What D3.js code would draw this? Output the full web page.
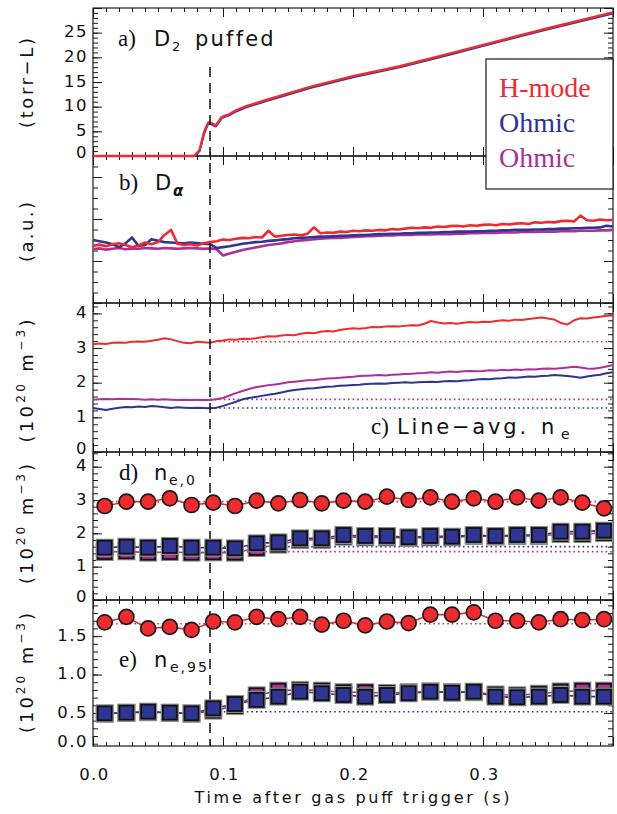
<!DOCTYPE html>
<html><head><meta charset="utf-8">
<script src="https://cdn.jsdelivr.net/npm/d3@7"></script>
<style>body{margin:0;background:#fff} svg{display:block}</style>
</head><body><svg id="c" width="617" height="814"></svg>
<script>
// ---------------- DATA ----------------
const colors = {hmode:"#ee2b2f", ohm1:"#2e3592", ohm2:"#ad2f98"};
const legendLabels = ["H-mode","Ohmic","Ohmic"];
const xTickLabels = [0, 0.1, 0.2, 0.3];
const puffTime = 0.09;

// panel a: D2 puffed (torr-L)
const tA = [0,0.078,0.082,0.0855,0.0887,0.0915,0.0945,0.099,0.105,0.1105,0.118,0.134,0.149,0.167,0.2,0.236,0.275,0.313,0.35,0.4];
const puffH = [0,0,1.2,4.9,6.8,6.6,6.2,7.9,8.5,9.3,10.1,11.4,12.6,14.0,16.2,18.2,20.8,23.4,25.9,29.1];
const puffOhm = [0,0,1.0,4.6,6.6,6.4,6.0,7.7,8.3,9.1,9.9,11.2,12.4,13.8,16.0,18.0,20.6,23.2,25.7,28.9];

// traces sampled every 5 ms (0 .. 0.4 s)
const tTrace = d3.range(81).map(i => +(i*0.005).toFixed(3));
// panel b: D-alpha (a.u.)
const daH = [1.36,1.39,1.35,1.40,1.42,1.38,1.33,1.37,1.44,1.40,1.45,1.62,1.74,1.41,1.38,1.40,1.37,1.42,1.45,1.47,
 1.51,1.50,1.53,1.55,1.54,1.57,1.56,1.72,1.58,1.60,1.62,1.63,1.61,1.65,1.80,1.66,1.68,1.67,1.70,1.69,
 1.72,1.71,1.73,1.72,1.74,1.73,1.76,1.75,1.77,1.79,1.78,1.80,1.79,1.82,1.81,1.83,1.84,1.82,1.85,1.84,
 1.86,1.87,1.85,1.88,1.87,1.89,1.90,1.88,1.92,1.91,1.93,1.92,1.95,1.96,1.94,2.08,1.97,1.96,1.99,1.97,1.98];
const daO1 = [1.50,1.47,1.44,1.40,1.33,1.42,1.56,1.36,1.38,1.52,1.48,1.45,1.44,1.43,1.42,1.44,1.43,1.41,1.40,1.31,
 1.33,1.35,1.38,1.41,1.43,1.45,1.46,1.48,1.49,1.51,1.52,1.54,1.55,1.56,1.57,1.58,1.58,1.59,1.60,1.60,
 1.61,1.62,1.62,1.63,1.64,1.64,1.65,1.65,1.66,1.66,1.67,1.67,1.68,1.68,1.69,1.69,1.70,1.70,1.70,1.71,
 1.71,1.72,1.72,1.73,1.73,1.74,1.74,1.74,1.75,1.75,1.76,1.76,1.77,1.77,1.78,1.78,1.79,1.79,1.80,1.84,1.82];
const daO2 = [1.28,1.30,1.27,1.29,1.31,1.28,1.30,1.29,1.31,1.30,1.29,1.31,1.30,1.29,1.30,1.31,1.30,1.29,1.30,1.28,
 1.13,1.18,1.22,1.26,1.29,1.32,1.35,1.38,1.40,1.42,1.45,1.47,1.49,1.50,1.52,1.53,1.54,1.55,1.55,1.56,
 1.57,1.58,1.59,1.59,1.60,1.61,1.61,1.62,1.62,1.62,1.63,1.63,1.63,1.64,1.64,1.64,1.65,1.65,1.66,1.66,
 1.67,1.67,1.67,1.68,1.68,1.68,1.69,1.69,1.69,1.70,1.70,1.70,1.71,1.71,1.71,1.72,1.72,1.72,1.73,1.73,1.74];
// panel c: line-averaged density (1e20 m^-3)
const neH = [3.11,3.13,3.12,3.15,3.16,3.15,3.18,3.19,3.18,3.21,3.24,3.28,3.25,3.20,3.15,3.14,3.18,3.17,3.15,3.20,
 3.22,3.25,3.24,3.27,3.26,3.28,3.31,3.34,3.33,3.36,3.38,3.37,3.41,3.44,3.43,3.47,3.49,3.48,3.52,3.55,
 3.57,3.56,3.58,3.61,3.60,3.62,3.63,3.62,3.64,3.66,3.65,3.70,3.78,3.74,3.71,3.72,3.70,3.73,3.75,3.74,
 3.76,3.75,3.78,3.80,3.79,3.82,3.81,3.84,3.86,3.88,3.85,3.82,3.72,3.68,3.80,3.86,3.85,3.88,3.90,3.93,3.94];
const neO1 = [1.27,1.24,1.21,1.25,1.28,1.30,1.29,1.31,1.30,1.33,1.31,1.29,1.27,1.29,1.28,1.27,1.28,1.27,1.26,1.28,
 1.33,1.39,1.45,1.52,1.56,1.59,1.62,1.65,1.68,1.72,1.76,1.79,1.81,1.83,1.84,1.86,1.88,1.89,1.91,1.92,
 1.93,1.94,1.96,1.97,1.98,1.97,1.99,2.00,2.01,2.00,2.01,2.02,2.03,2.02,2.04,2.05,2.04,2.06,2.07,2.09,
 2.11,2.10,2.12,2.13,2.15,2.14,2.16,2.18,2.17,2.19,2.20,2.22,2.21,2.19,2.17,2.14,2.18,2.21,2.23,2.27,2.30];
const neO2 = [1.51,1.52,1.53,1.52,1.54,1.53,1.53,1.52,1.51,1.52,1.51,1.52,1.51,1.50,1.51,1.50,1.51,1.50,1.50,1.52,
 1.56,1.63,1.70,1.76,1.82,1.87,1.90,1.93,1.95,1.98,2.01,2.03,2.05,2.07,2.08,2.10,2.12,2.13,2.14,2.16,
 2.17,2.19,2.20,2.21,2.22,2.21,2.23,2.24,2.25,2.26,2.27,2.28,2.30,2.29,2.31,2.32,2.31,2.33,2.34,2.33,
 2.34,2.36,2.35,2.37,2.36,2.38,2.37,2.39,2.38,2.40,2.41,2.40,2.42,2.44,2.46,2.44,2.41,2.40,2.43,2.47,2.51];
const neRef = {H:3.18, O1:1.27, O2:1.52};

// panels d, e: profile-fit densities at discrete times
const tMarkers = [0.009,0.0257,0.0424,0.0591,0.0758,0.0925,0.1092,0.1259,0.1426,0.1593,0.176,0.1927,
 0.2094,0.2261,0.2428,0.2595,0.2762,0.2929,0.3096,0.3263,0.343,0.3597,0.3764,0.3931];
const ne0H = [2.82,2.95,2.95,3.05,2.85,2.92,2.82,2.98,2.90,3.00,2.90,2.98,2.95,3.10,3.00,3.08,2.95,3.05,2.95,3.08,2.98,3.08,2.92,2.75];
const ne0O1 = [1.57,1.60,1.57,1.62,1.57,1.57,1.55,1.70,1.73,1.85,1.85,1.95,1.92,1.92,1.88,1.92,1.90,1.95,1.92,1.95,1.95,2.05,2.05,2.08];
const ne0O2 = [1.44,1.46,1.42,1.44,1.42,1.43,1.42,1.56,1.66,1.80,1.80,1.90,1.88,1.88,1.86,1.88,1.88,1.92,1.90,1.92,1.92,1.98,1.98,2.01];
const ne0Ref = {H:2.95, O1:1.60, O2:1.45};
const ne95H = [1.68,1.75,1.60,1.62,1.58,1.69,1.68,1.75,1.72,1.75,1.65,1.70,1.64,1.69,1.67,1.78,1.78,1.81,1.70,1.70,1.68,1.72,1.71,1.72];
const ne95O1 = [0.495,0.504,0.517,0.504,0.495,0.56,0.617,0.67,0.712,0.777,0.756,0.734,0.712,0.734,0.756,0.777,0.764,0.777,0.712,0.704,0.712,0.734,0.712,0.712];
const ne95O2 = [0.49,0.50,0.51,0.50,0.49,0.53,0.59,0.73,0.79,0.80,0.79,0.77,0.77,0.76,0.77,0.78,0.77,0.77,0.74,0.73,0.75,0.78,0.79,0.79];
const ne95Ref = {H:1.66, O1:0.516};

// axis definitions
const yDomains = [[0,30],[0,3.5],[0,4.3],[0,4.44],[0.07,1.97]];
const yMajorStep = [5,1,1,1,0.5];
const yMinorStep = [1,0.25,0.2,0.2,0.1];
const yTickLabels = [[0,5,10,15,20,25],[],[0,1,2,3,4],[0,1,2,3,4],[0,0.5,1.0,1.5]];
const yFormats = ["d","d","d","d",".1f"];

// ---------------- LAYOUT ----------------
const svg = d3.select("#c");
const L = 93, R = 613;
const panelBox = [{top:8,bottom:156},{top:156,bottom:303},{top:303,bottom:452},{top:452,bottom:600},{top:600,bottom:746}];
const x = d3.scaleLinear().domain([0,0.4]).range([L,R]);
const ys = panelBox.map((b,i) => d3.scaleLinear().domain(yDomains[i]).range([b.bottom,b.top]));
const FONT = "DejaVu Sans";
const ink = "#1a1a1a";

const rng = (d0,d1,s) => d3.range(Math.ceil(d0/s - 1e-9), Math.floor(d1/s + 1e-9) + 1).map(k => +(k*s).toFixed(4));
const xMinor = rng(0,0.4,0.01), xMajor = rng(0,0.4,0.1);
const labStyle = s => s.attr("font-family",FONT).attr("font-size",16.5).attr("letter-spacing",1.5).attr("fill","#111");

function styleAxis(g){
  g.select(".domain").remove();
  g.selectAll("line").attr("stroke",ink).attr("stroke-width",1);
  g.selectAll("text").call(labStyle);
}

panelBox.forEach((b,i) => {
  const y = ys[i];
  const g = svg.append("g");
  const isLast = i === panelBox.length-1;
  [["t",b.top],["b",b.bottom]].forEach(([s,yy]) => {
    const mk = () => s==="t" ? d3.axisTop(x) : d3.axisBottom(x);
    g.append("g").attr("transform",`translate(0,${yy})`)
      .call(mk().tickValues(xMinor).tickSizeInner(-4).tickSizeOuter(0).tickFormat(""))
      .call(styleAxis);
    const showLab = isLast && s==="b";
    g.append("g").attr("transform",`translate(0,${yy})`)
      .call(mk().tickValues(xMajor).tickSizeInner(-9).tickSizeOuter(0).tickPadding(22)
        .tickFormat(d => showLab && xTickLabels.includes(d) ? d3.format(".1f")(d) : ""))
      .call(styleAxis)
      .call(gg => gg.selectAll("text").attr("dx",1));
  });
  const yMin = rng(yDomains[i][0],yDomains[i][1],yMinorStep[i]);
  const yMaj = rng(yDomains[i][0],yDomains[i][1],yMajorStep[i]);
  const fmt = d3.format(yFormats[i]);
  [["l",L],["r",R]].forEach(([s,xx]) => {
    const mk = () => s==="l" ? d3.axisLeft(y) : d3.axisRight(y);
    g.append("g").attr("transform",`translate(${xx},0)`)
      .call(mk().tickValues(yMin).tickSizeInner(-5).tickSizeOuter(0).tickFormat(""))
      .call(styleAxis);
    g.append("g").attr("transform",`translate(${xx},0)`)
      .call(mk().tickValues(yMaj).tickSizeInner(-9).tickSizeOuter(0).tickPadding(5)
        .tickFormat(d => s==="l" && yTickLabels[i].some(v => Math.abs(v-d)<1e-9) ? fmt(d) : ""))
      .call(styleAxis)
      .call(gg => gg.selectAll("text").attr("y", d => d===yDomains[i][0] ? -4 : -1));
  });
  // labels for values below the visible range sit at the bottom edge
  yTickLabels[i].filter(v => v < yDomains[i][0]).forEach(v => {
    g.append("text").attr("x",L-5).attr("y",b.bottom-4).attr("dy","0.32em").attr("text-anchor","end")
      .call(labStyle).text(fmt(v));
  });
  g.append("rect").attr("x",L).attr("y",b.top).attr("width",R-L).attr("height",b.bottom-b.top)
    .attr("fill","none").attr("stroke",ink).attr("stroke-width",1.2);
});

// ---------------- MARKS ----------------
const plotLine = (i, ts, vs, color, w) => svg.append("path")
  .datum(ts.map((t,k)=>[t,vs[k]]))
  .attr("fill","none").attr("stroke",color).attr("stroke-width",w).attr("stroke-linejoin","round")
  .attr("d", d3.line().x(d=>x(d[0])).y(d=>ys[i](d[1])));
const refLine = (i, t0, v, color) => svg.append("line")
  .attr("x1",x(t0)).attr("x2",x(0.4)).attr("y1",ys[i](v)).attr("y2",ys[i](v))
  .attr("stroke",color).attr("stroke-width",1.6).attr("stroke-dasharray","1.6,3");

// a
plotLine(0,tA,puffOhm,colors.ohm1,2.2);
plotLine(0,tA,puffH,colors.hmode,2.4);
// b
plotLine(1,tTrace,daO2,colors.ohm2,2.6);
plotLine(1,tTrace,daO1,colors.ohm1,2.6);
plotLine(1,tTrace,daH,colors.hmode,2.6);
// c
refLine(2,puffTime,neRef.H,colors.hmode);
refLine(2,puffTime,neRef.O2,colors.ohm2);
refLine(2,puffTime,neRef.O1,colors.ohm1);
plotLine(2,tTrace,neH,colors.hmode,2);
plotLine(2,tTrace,neO2,colors.ohm2,2);
plotLine(2,tTrace,neO1,colors.ohm1,2);
// d, e lines
refLine(3,0,ne0Ref.H,colors.hmode);
refLine(3,puffTime,ne0Ref.O1,colors.ohm1);
refLine(3,puffTime,ne0Ref.O2,colors.ohm2);
refLine(4,0,ne95Ref.H,colors.hmode);
refLine(4,puffTime,ne95Ref.O1,colors.ohm1);
[[3,ne0O2,ne0O1,ne0H],[4,ne95O2,ne95O1,ne95H]].forEach(([i,o2,o1,h]) => {
  plotLine(i,tMarkers,o2,colors.ohm2,1.6);
  plotLine(i,tMarkers,o1,colors.ohm1,1.6);
  plotLine(i,tMarkers,h,colors.hmode,1.6);
});

// dashed puff line
svg.append("line").attr("x1",x(puffTime)).attr("x2",x(puffTime)).attr("y1",67).attr("y2",panelBox[4].bottom)
  .attr("stroke","#111").attr("stroke-width",1.5).attr("stroke-dasharray","10,6");

// markers
const squares = (i, vs, color) => {
  const g = svg.append("g");
  const pts = tMarkers.map((t,k)=>[t,vs[k]]);
  g.selectAll("rect.h").data(pts).join("rect")
    .attr("x",d=>x(d[0])-9).attr("y",d=>ys[i](d[1])-9).attr("width",18).attr("height",18).attr("fill","#8c8c8c");
  g.selectAll("rect.s").data(pts).join("rect")
    .attr("x",d=>x(d[0])-7).attr("y",d=>ys[i](d[1])-7).attr("width",14).attr("height",14)
    .attr("fill",color).attr("stroke","#111").attr("stroke-width",1.8);
};
const circles = (i, vs) => svg.append("g").selectAll("circle").data(tMarkers.map((t,k)=>[t,vs[k]])).join("circle")
  .attr("cx",d=>x(d[0])).attr("cy",d=>ys[i](d[1])).attr("r",7.5)
  .attr("fill",colors.hmode).attr("stroke","#1a1a1a").attr("stroke-width",1.7);
squares(3,ne0O2,colors.ohm2); squares(3,ne0O1,colors.ohm1); circles(3,ne0H);
squares(4,ne95O2,colors.ohm2); squares(4,ne95O1,colors.ohm1); circles(4,ne95H);

// ---------------- TEXT ----------------
function panelLabel(letter, lx, base, parts){
  const t = svg.append("text").attr("y",base).attr("fill","#111");
  t.append("tspan").attr("x",lx).attr("font-family","Liberation Serif").attr("font-size",23).text(letter);
  parts.forEach(p => {
    const s = t.append("tspan").attr("x",p.x).attr("y",base+(p.sub||0))
      .attr("font-family",FONT).attr("font-size",p.size||21).attr("letter-spacing",p.ls==null?2:p.ls).text(p.t);
    if (p.style) s.attr("font-style",p.style);
    if (p.weight) s.attr("font-weight",p.weight);
  });
}
panelLabel("a)",118,46,[{x:154,t:"D"},{x:172,t:"2",size:13,sub:5},{x:195,t:"puffed",ls:2.2}]);
panelLabel("b)",119,190,[{x:155,t:"D"},{x:173,t:"α",size:15,sub:6,style:"italic",weight:"bold",ls:0}]);
panelLabel("c)",371,434,[{x:397,t:"Line−avg.",ls:2.8},{x:541,t:"n"},{x:561,t:"e",size:14,sub:5}]);
panelLabel("d)",119,480,[{x:154,t:"n"},{x:169,t:"e,0",size:14,sub:5}]);
panelLabel("e)",119,667,[{x:154,t:"n"},{x:170,t:"e,95",size:14,sub:5}]);

// y titles
function yTitle(cy, len, build){
  const t = svg.append("text").attr("transform",`translate(33,${cy}) rotate(-90)`)
    .attr("text-anchor","middle").attr("font-family",FONT).attr("font-size",18).attr("fill","#111")
    .attr("textLength",len).attr("lengthAdjust","spacing");
  build(t);
}
yTitle(83,90,t=>t.text("(torr−L)"));
yTitle(232,60,t=>t.text("(a.u.)"));
const dens = t => {
  t.append("tspan").text("(10");
  t.append("tspan").attr("font-size",12).attr("dy",-8).text("20");
  t.append("tspan").attr("dy",8).text("  m");
  t.append("tspan").attr("font-size",12).attr("dy",-8).text("−3");
  t.append("tspan").attr("dy",8).text(")");
};
yTitle(381,123,dens);
yTitle(524,120,dens);
yTitle(673,120,dens);

// x title
svg.append("text").attr("x",352).attr("y",803).attr("text-anchor","middle")
  .attr("font-family",FONT).attr("font-size",16).attr("fill","#111")
  .attr("textLength",315).attr("lengthAdjust","spacing").text("Time after gas puff trigger (s)");

// legend
const lg = svg.append("g");
lg.append("rect").attr("x",486).attr("y",59).attr("width",R-486).attr("height",130)
  .attr("fill","#fff").attr("stroke",ink).attr("stroke-width",1.2);
const legColors = [colors.hmode, colors.ohm1, colors.ohm2];
lg.selectAll("text").data(legendLabels).join("text")
  .attr("x",499).attr("y",(d,k)=>97+k*35).attr("font-family","Liberation Serif").attr("font-size",28)
  .attr("fill",(d,k)=>legColors[k]).text(d=>d);
</script></body></html>
